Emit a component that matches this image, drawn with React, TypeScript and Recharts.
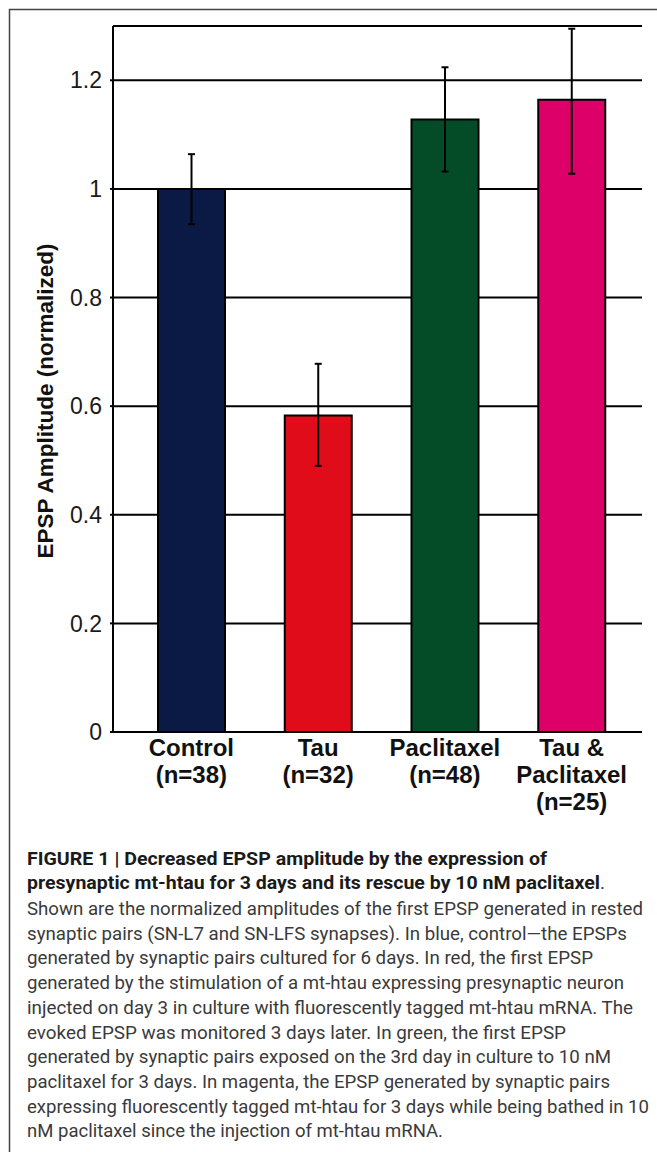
import React from 'react'
import { BarChart, Bar, XAxis, YAxis, CartesianGrid, ErrorBar, Cell } from 'recharts'

// EPSP amplitude, normalized to control
const categories = ['Control', 'Tau', 'Paclitaxel', 'Tau & Paclitaxel']
const sampleSizes = [38, 32, 48, 25]
const amplitude = [1.0, 0.583, 1.128, 1.164]
const errBelow = [0.065, 0.093, 0.096, 0.136]
const errAbove = [0.064, 0.095, 0.096, 0.131]
const yTicks = [0, 0.2, 0.4, 0.6, 0.8, 1, 1.2]

const BAR_COLORS = ['#0B1A44', '#E10C19', '#034C27', '#DC0068']
const FONT = '"Liberation Sans", Arial, Helvetica, sans-serif'
const CAPTION_FONT = '"Liberation Sans Narrow", Roboto, "Liberation Sans", sans-serif'

const rows = categories.map((name, i) => ({
  name,
  n: sampleSizes[i],
  value: amplitude[i],
  err: [errBelow[i], errAbove[i]],
}))

// caption: [text, right edge x] per line
const captionBold: [string, number][] = [
  ['FIGURE 1 | Decreased EPSP amplitude by the expression of', 547],
  ['presynaptic mt-htau for 3 days and its rescue by 10 nM paclitaxel', 600],
]
const captionBody: [string, number][] = [
  ['Shown are the normalized amplitudes of the first EPSP generated in rested', 643],
  ['synaptic pairs (SN-L7 and SN-LFS synapses). In blue, control\u2014the EPSPs', 627],
  ['generated by synaptic pairs cultured for 6 days. In red, the first EPSP', 593],
  ['generated by the stimulation of a mt-htau expressing presynaptic neuron', 624],
  ['injected on day 3 in culture with fluorescently tagged mt-htau mRNA. The', 633],
  ['evoked EPSP was monitored 3 days later. In green, the first EPSP', 566],
  ['generated by synaptic pairs exposed on the 3rd day in culture to 10 nM', 611],
  ['paclitaxel for 3 days. In magenta, the EPSP generated by synaptic pairs', 610],
  ['expressing fluorescently tagged mt-htau for 3 days while being bathed in 10', 649],
  ['nM paclitaxel since the injection of mt-htau mRNA.', 443],
]

function CategoryTick(props: any) {
  const { x, y, payload, index } = props
  const name: string = payload.value
  const parts = name.includes(' & ') ? name.replace(' & ', ' &\n').split('\n') : [name]
  const lines = [...parts, `(n=${sampleSizes[index ?? categories.indexOf(name)]})`]
  return (
    <text x={x} y={y} textAnchor="middle" fill="#111" fontFamily={FONT} fontWeight="bold" fontSize={24}>
      {lines.map((l, i) => (
        <tspan key={i} x={x} dy={i === 0 ? 24 : 27}>{l}</tspan>
      ))}
    </text>
  )
}

function YLabel() {
  return (
    <text
      x={53}
      y={401}
      transform="rotate(-90, 53, 401)"
      textAnchor="middle"
      fill="#111"
      fontFamily={FONT}
      fontWeight="bold"
      fontSize={22.5}
    >
      EPSP Amplitude (normalized)
    </text>
  )
}

export default function App() {
  return (
    <div style={{ position: 'absolute', left: 0, top: 0, width: 657, height: 1152, background: '#fff' }}>
      <BarChart
        width={657}
        height={840}
        data={rows}
        margin={{ top: 26, right: 15, bottom: 8, left: 0 }}
        barCategoryGap={30}
      >
        <CartesianGrid vertical={false} stroke="#000" strokeWidth={2} />
        <XAxis
          dataKey="name"
          height={100}
          interval={0}
          padding={{ left: 15, right: 7 }}
          axisLine={{ stroke: '#000', strokeWidth: 2 }}
          tickLine={false}
          tickSize={0}
          tickMargin={0}
          tick={<CategoryTick />}
        />
        <YAxis
          width={113}
          domain={[0, 1.3]}
          ticks={yTicks}
          interval={0}
          tickFormatter={(v: number) => String(v)}
          tick={{ fill: '#1a1a1a', fontSize: 23, fontFamily: FONT }}
          tickSize={3}
          tickMargin={8}
          tickLine={{ stroke: '#000', strokeWidth: 2 }}
          axisLine={{ stroke: '#000', strokeWidth: 2 }}
          label={{ content: () => <YLabel /> }}
        />
        <Bar dataKey="value" stroke="#000" strokeWidth={2} isAnimationActive={false}>
          {rows.map((r, i) => (
            <Cell key={r.name} fill={BAR_COLORS[i]} />
          ))}
          <ErrorBar dataKey="err" width={3.5} stroke="#000" strokeWidth={2} isAnimationActive={false} />
        </Bar>
      </BarChart>

      <svg
        width={657}
        height={1152}
        style={{ position: 'absolute', left: 0, top: 0, pointerEvents: 'none' }}
      >
        {/* frame */}
        <line x1={9} y1={9.5} x2={657} y2={9.5} stroke="#444" strokeWidth={1.5} />
        <line x1={9.5} y1={9} x2={9.5} y2={1152} stroke="#444" strokeWidth={1.5} />

        {captionBold.map(([t, right], i) => (
          <text
            key={'b' + i}
            x={27}
            y={865 + i * 24}
            fontFamily={CAPTION_FONT}
            fontWeight="bold"
            fontSize={18.5}
            fill="#1a1a1a"
            textLength={right - 27}
            lengthAdjust="spacingAndGlyphs"
          >
            {t}
          </text>
        ))}
        <text x={600} y={889} fontFamily={CAPTION_FONT} fontSize={18.5} fill="#333">.</text>
        {captionBody.map(([t, right], i) => (
          <text
            key={'r' + i}
            x={27}
            y={915 + i * 24.7}
            fontFamily={CAPTION_FONT}
            fontSize={18.5}
            fill="#3a3a3a"
            textLength={right - 27}
            lengthAdjust="spacingAndGlyphs"
          >
            {t}
          </text>
        ))}
      </svg>
    </div>
  )
}
